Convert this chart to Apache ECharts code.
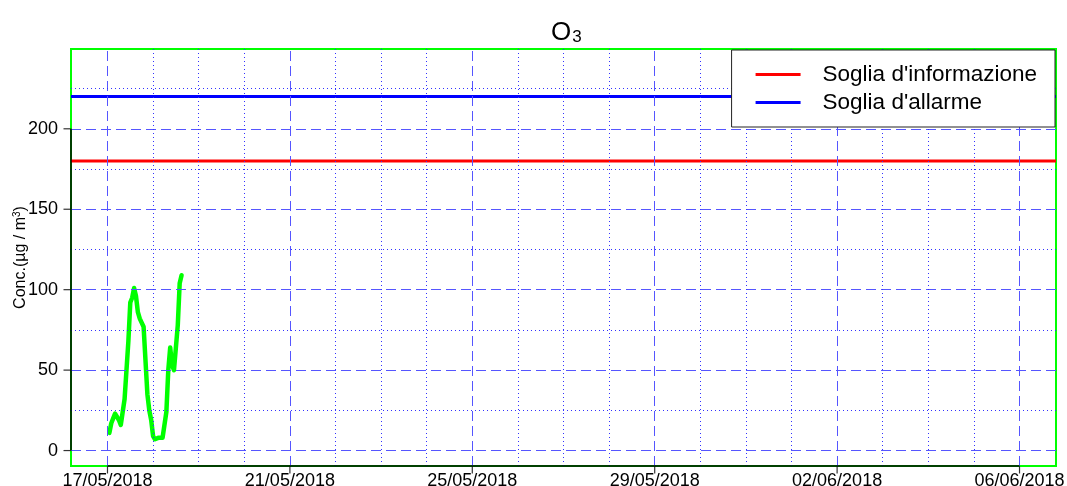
<!DOCTYPE html>
<html>
<head>
<meta charset="utf-8">
<title>O3</title>
<script src="https://cdn.jsdelivr.net/npm/echarts@6/dist/echarts.min.js"></script>
<style>
html, body { margin: 0; padding: 0; background: #fff; }
#chart { width: 1067px; height: 486px; }
</style>
</head>
<body>
<div id="chart"></div>
<script>
// O3 hourly readings, first one at 17/05/2018 01:00, then one per hour
const o3Start = Date.UTC(2018, 4, 17, 1)
const o3Values = [11, 17, 20, 23, 22, 19, 16, 15, 32, 50, 68, 92, 95, 101, 96, 86, 82, 82, 77, 76,
  35, 25, 19, 9, 7, 7, 8, 9, 8, 8, 24, 50, 64, 53, 50, 49, 78, 104, 109]

// soglie (thresholds)
const sogliaNames = ["Soglia d'informazione", "Soglia d'allarme"]
const sogliaValues = [180, 220]
const sogliaColors = ['#ff0000', '#0000ff']

// axes
const xTickDates = ['2018-05-17', '2018-05-21', '2018-05-25', '2018-05-29', '2018-06-02', '2018-06-06']
const yTicks = [0, 50, 100, 150, 200]
const yMinorTicks = [25, 75, 125, 175, 225]
const yLimits = [0, 240]

const HOUR = 3600 * 1000
const DAY = 24 * HOUR
const FONT = 'Liberation Sans, Arial, sans-serif'

const xTicks = xTickDates.map(d => Date.parse(d + 'T00:00:00Z'))
const xMinorTicks = []
for (let t = xTicks[0]; t <= xTicks[xTicks.length - 1]; t += DAY) {
  if (xTicks.indexOf(t) < 0) xMinorTicks.push(t)
}
// R style 4% extension of the ranges
const xPad = (xTicks[xTicks.length - 1] - xTicks[0]) * 0.04
const xMin = xTicks[0] - xPad
const xMax = xTicks[xTicks.length - 1] + xPad
const yPad = (yLimits[1] - yLimits[0]) * 0.04
const yMin = yLimits[0] - yPad
const yMax = yLimits[1] + yPad

const o3Data = o3Values.map((v, i) => [o3Start + i * HOUR, v])

function pad2(n) { return (n < 10 ? '0' : '') + n }
function fmtDate(v) {
  const d = new Date(v)
  return pad2(d.getUTCDate()) + '/' + pad2(d.getUTCMonth() + 1) + '/' + d.getUTCFullYear()
}

const majorLines = xTicks.map(v => ({ xAxis: v })).concat(yTicks.map(v => ({ yAxis: v })))
const minorLines = xMinorTicks.map(v => ({ xAxis: v })).concat(yMinorTicks.map(v => ({ yAxis: v })))

function gridSeries(name, lines, dash, color) {
  return {
    name: name,
    type: 'line',
    data: [],
    silent: true,
    z: 1,
    color: color,
    markLine: {
      symbol: 'none',
      silent: true,
      animation: false,
      label: { show: false },
      lineStyle: { color: color, width: 1, type: dash, opacity: 1 },
      emphasis: { disabled: true },
      data: lines
    }
  }
}

const chart = echarts.init(document.getElementById('chart'), null, { renderer: 'canvas' })

const series = [
  gridSeries('gridMajor', majorLines, [10, 5], '#5555ff'),
  gridSeries('gridMinor', minorLines, [1, 3], '#3333ff')
]

sogliaNames.forEach((name, i) => {
  series.push({
    name: name,
    type: 'line',
    data: [[xMin, sogliaValues[i]], [xMax, sogliaValues[i]]],
    showSymbol: false,
    symbol: 'none',
    silent: true,
    z: 3,
    color: sogliaColors[i],
    lineStyle: { color: sogliaColors[i], width: 3 }
  })
})

series.push({
  name: 'O3',
  type: 'line',
  data: o3Data,
  symbol: 'none',
  silent: true,
  z: 4,
  color: '#00ff00',
  lineStyle: { color: '#00ff00', width: 4.5, cap: 'round', join: 'round' }
})

// black axis segments (first to last tick), drawn over the green box
series.push({
  name: 'asseX',
  type: 'line',
  data: [[xTicks[0], yMin], [xTicks[xTicks.length - 1], yMin]],
  symbol: 'none', silent: true, clip: false, z: 5,
  color: '#000',
  lineStyle: { color: '#000', width: 1.5 }
})
series.push({
  name: 'asseY',
  type: 'line',
  data: [[xMin, yTicks[0]], [xMin, yTicks[yTicks.length - 1]]],
  symbol: 'none', silent: true, clip: false, z: 5,
  color: '#000',
  lineStyle: { color: '#000', width: 1.5 }
})
// tick marks outside the box
series.push({
  name: 'tickX',
  type: 'scatter',
  data: xTicks.map(t => [t, yMin]),
  symbol: 'rect', symbolSize: [1.2, 7], symbolOffset: [0, 4],
  silent: true, clip: false, z: 5,
  itemStyle: { color: '#000' }
})
series.push({
  name: 'tickY',
  type: 'scatter',
  data: yTicks.map(v => [xMin, v]),
  symbol: 'rect', symbolSize: [7, 1.2], symbolOffset: [-4, 0],
  silent: true, clip: false, z: 5,
  itemStyle: { color: '#000' }
})

chart.setOption({
  animation: false,
  backgroundColor: '#fff',
  textStyle: { fontFamily: FONT, color: '#000' },
  title: {
    text: '{o|O}{s|3}',
    left: 546,
    top: 14,
    textStyle: {
      fontWeight: 'normal',
      rich: {
        o: { fontSize: 26, fontFamily: FONT, fontWeight: 'normal', color: '#000' },
        s: { fontSize: 17, fontFamily: FONT, fontWeight: 'normal', color: '#000', padding: [10, 0, 0, 1] }
      }
    }
  },
  legend: {
    data: sogliaNames,
    orient: 'vertical',
    right: 12,
    top: 50,
    backgroundColor: '#fff',
    borderColor: '#222',
    borderWidth: 1,
    borderRadius: 0,
    padding: [13, 18, 13, 24],
    itemGap: 5,
    itemWidth: 45,
    itemHeight: 3,
    icon: 'rect',
    selectedMode: false,
    z: 10,
    textStyle: { fontSize: 22.5, fontFamily: FONT, color: '#000', lineHeight: 20, padding: [0, 0, 0, 17] }
  },
  grid: {
    left: 71,
    right: 11,
    top: 49,
    bottom: 20,
    outerBoundsMode: 'none',
    containLabel: false,
    show: true,
    borderColor: '#00ff00',
    borderWidth: 2,
    backgroundColor: 'transparent'
  },
  xAxis: {
    type: 'value',
    min: xMin,
    max: xMax,
    axisLine: { show: false },
    splitLine: { show: false },
    minorSplitLine: { show: false },
    axisTick: { show: false },
    axisLabel: {
      customValues: xTicks,
      formatter: fmtDate,
      fontSize: 18,
      fontFamily: FONT,
      color: '#000',
      margin: 6
    }
  },
  yAxis: {
    type: 'value',
    min: yMin,
    max: yMax,
    name: '{a|Conc.(µg / m}{b|3}{a|)}',
    nameLocation: 'middle',
    nameRotate: 90,
    nameGap: 41,
    nameMoveOverlap: false,
    nameTextStyle: {
      rich: {
        a: { fontSize: 16, fontFamily: FONT, color: '#000' },
        b: { fontSize: 10, fontFamily: FONT, color: '#000', padding: [0, 0, 8, 0] }
      }
    },
    axisLine: { show: false },
    splitLine: { show: false },
    minorSplitLine: { show: false },
    axisTick: { show: false },
    axisLabel: {
      customValues: yTicks,
      fontSize: 18,
      fontFamily: FONT,
      color: '#000',
      margin: 13
    }
  },
  series: series
})
</script>
</body>
</html>
